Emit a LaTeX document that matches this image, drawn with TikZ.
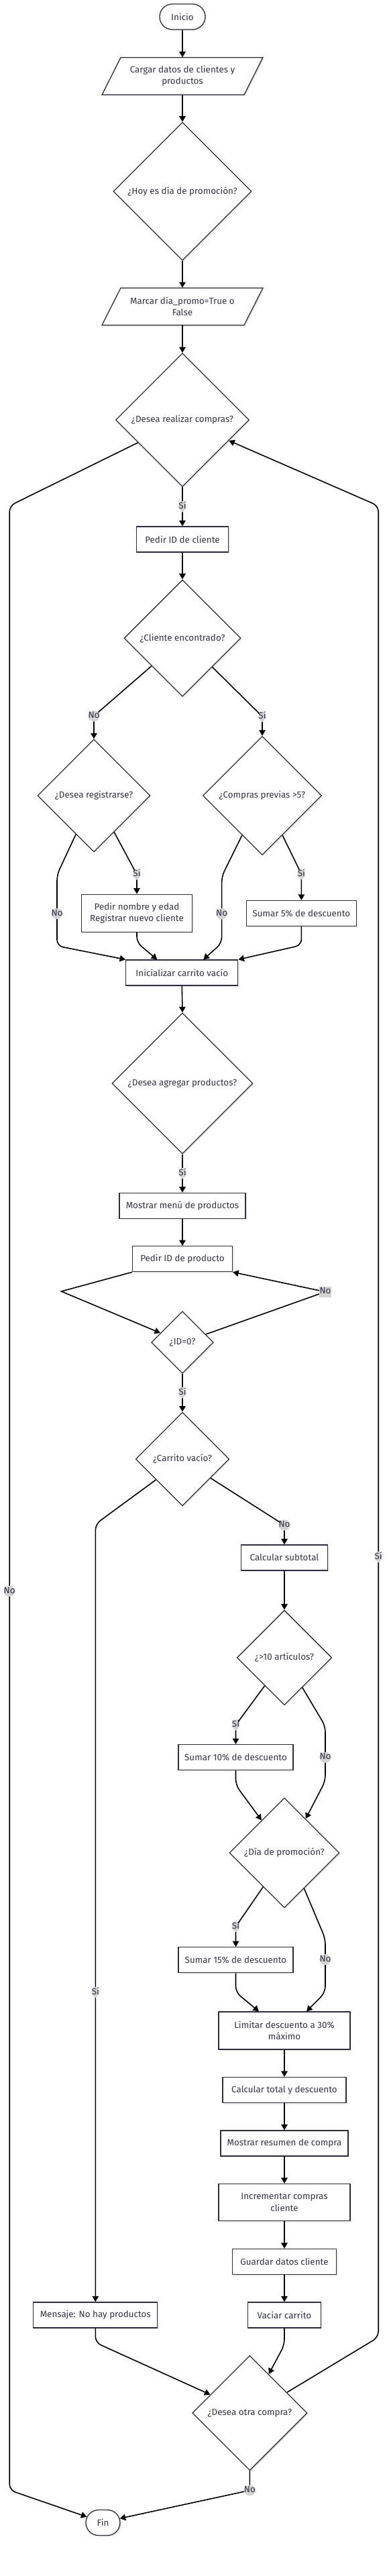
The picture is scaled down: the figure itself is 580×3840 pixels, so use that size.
\documentclass[tikz,border=0pt]{standalone}
\usepackage{fontspec}
\setmainfont{Fira Sans}
\usetikzlibrary{shapes.geometric,shapes.misc,arrows.meta,calc,shadows}
\definecolor{txtc}{RGB}{51,51,68}
\definecolor{strk}{RGB}{45,45,60}
\definecolor{lblbg}{RGB}{211,211,211}
\begin{document}
\begin{tikzpicture}[x=1pt,y=-1pt,
  shad/.style={drop shadow={shadow xshift=2pt,shadow yshift=-2pt,opacity=0.08,fill=black}},
  base/.style={draw=strk,line width=1.3pt,fill=white,text=txtc,inner sep=0pt,align=center,
    font=\fontsize{13.4}{17.3}\selectfont,shad},
  proc/.style={base,rectangle,minimum width=#1,minimum height=38},
  dec/.style={base,diamond,aspect=1,minimum width=#1,minimum height=#1},
  term/.style={base,rounded rectangle,minimum width=#1,minimum height=38},
  ptext/.style={text=txtc,inner sep=0pt,align=center,font=\fontsize{13.4}{17.3}\selectfont,
    minimum width=212,minimum height=55.6},
  pshape/.style={draw=strk,line width=1.3pt,fill=white,shad},
  conn/.style={draw=black,line width=1.6pt,-{Triangle[length=8.5pt,width=9.5pt]},rounded corners=9pt},
  lbl/.style={fill=lblbg,text=txtc,font=\fontsize{13.4}{15}\selectfont,inner xsep=0.3pt,inner ysep=2.3pt,
    text height=9pt,text depth=2.6pt}
]
\useasboundingbox (0,0) rectangle (580,3840);

% nodes
\node[term=68] (inicio) at (272,25) {Inicio};
\draw[pshape] (180,85.7) -- (392,85.7) -- (364,141.3) -- (152,141.3) -- cycle;
\node[ptext] (load) at (272,113.5) {Cargar datos de clientes y\\productos};
\node[dec=206] (d1) at (272,285.3) {¿Hoy es día de promoción?};
\draw[pshape] (180,429.3) -- (392,429.3) -- (364,484.7) -- (152,484.7) -- cycle;
\node[ptext] (load2) at (272,457) {Marcar dia\_promo=True o\\False};
\node[dec=199] (d2) at (272,626) {¿Desea realizar compras?};
\node[proc=137] (pc) at (272,804) {Pedir ID de cliente};
\node[dec=174] (d3) at (272,951.3) {¿Cliente encontrado?};
\node[dec=168] (d4) at (140,1186) {¿Desea registrarse?};
\node[dec=177] (d5) at (391,1186) {¿Compras previas >5?};
\node[proc=165,minimum height=56] (reg) at (204,1361.3) {Pedir nombre y edad\\Registrar nuevo cliente};
\node[proc=164] (s5) at (449.4,1361.5) {Sumar 5\% de descuento};
\node[proc=167] (init) at (271.3,1450) {Inicializar carrito vacío};
\node[dec=210] (d6) at (272,1615) {¿Desea agregar productos?};
\node[proc=188] (menu) at (272,1797.3) {Mostrar menú de productos};
\node[proc=149] (pid) at (272,1876.7) {Pedir ID de producto};
\node[dec=92.6] (d7) at (272,2001) {¿ID=0?};
\node[dec=139.6] (d8) at (272,2175) {¿Carrito vacío?};
\node[proc=129] (subt) at (424,2322) {Calcular subtotal};
\node[dec=141.4] (d9) at (424,2471) {¿>10 artículos?};
\node[proc=171] (s10) at (351.5,2619.7) {Sumar 10\% de descuento};
\node[dec=164] (d10) at (424,2762) {¿Día de promoción?};
\node[proc=171] (s15) at (351.5,2921.7) {Sumar 15\% de descuento};
\node[proc=196,minimum height=56] (lim) at (424,3027) {Limitar descuento a 30\%\\máximo};
\node[proc=184] (calc) at (424,3115.5) {Calcular total y descuento};
\node[proc=190] (res) at (424,3195) {Mostrar resumen de compra};
\node[proc=196,minimum height=55] (inc) at (424,3283) {Incrementar compras\\cliente};
\node[proc=155] (guard) at (424,3371.5) {Guardar datos cliente};
\node[proc=109] (vac) at (424,3451) {Vaciar carrito};
\node[proc=185] (msg) at (142.3,3451) {Mensaje: No hay productos};
\node[dec=171.4] (d11) at (372.4,3597) {¿Desea otra compra?};
\node[term=51] (fin) at (153.5,3760.5) {Fin};

% connectors
\draw[conn] (inicio.south) -- (load.north);
\draw[conn] (load.south) -- (d1.north);
\draw[conn] (d1.south) -- (load2.north);
\draw[conn] (load2.south) -- (d2.north);
\draw[conn] (d2.south) -- node[lbl]{Sí} (pc.north);
\draw[conn] (d2.207) -- (14.2,754) -- node[lbl,pos=0.547]{No} (14.2,3712) -- (fin.160);
\draw[conn] (d11.29) -- (564.2,3484) -- node[lbl,pos=0.426]{Sí} (564.2,754) -- (d2.336);
\draw[conn] (pc.south) -- (d3.north);
\draw[conn] (d3.222) -- (140,1067.4) node[lbl]{No} -- (d4.north);
\draw[conn] (d3.316) -- (391,1068) node[lbl]{Sí} -- (d5.north);
\draw[conn] (d4.299) -- (204,1303.4) node[lbl]{Sí} -- (reg.north);
\draw[conn] (d4.245) -- (85,1304) -- node[lbl,pos=0.547]{No} (85,1410) -- (init.north west);
\draw[conn] (reg.south) -- (204,1405) -- ($(init.north)+(-37,0)$);
\draw[conn] (d5.243) -- (330.6,1306.5) -- node[lbl,pos=0.56]{No} (330.6,1406) -- ($(init.north)+(32,0)$);
\draw[conn] (d5.297) -- (449.4,1303) node[lbl]{Sí} -- (s5.north);
\draw[conn] (s5.south) -- (449.4,1409) -- (init.north east);
\draw[conn] (init.south) -- (d6.north);
\draw[conn] (d6.south) -- node[lbl]{Sí} (menu.north);
\draw[conn] (menu.south) -- (pid.north);
\draw[conn,sharp corners] (pid.south west) -- (91.4,1925) -- (d7.157);
\draw[conn,sharp corners] (d7.19) -- (485,1925.7) node[lbl]{No} -- (pid.south east);
\draw[conn] (d7.south) -- node[lbl]{Sí} (d8.north);
\draw[conn] (d8.218) -- (142.3,2272) -- node[lbl,pos=0.602]{Sí} (msg.north);
\draw[conn] (d8.326) -- (424,2273.4) node[lbl]{No} -- (subt.north);
\draw[conn] (subt.south) -- (d9.north);
\draw[conn] (d9.235) -- (351.5,2571.4) node[lbl]{Sí} -- (s10.north);
\draw[conn] (d9.301) -- (485,2573) -- node[lbl,pos=0.57]{No} (485,2655) -- (d10.58);
\draw[conn] (s10.south) -- (351.5,2661) -- (d10.125);
\draw[conn] (d10.238) -- (351.5,2872) node[lbl]{Sí} -- (s15.north);
\draw[conn] (d10.299) -- (485,2890) -- node[lbl,pos=0.39]{No} (485,2970) -- ($(lim.north)+(33,0)$);
\draw[conn] (s15.south) -- (351.5,2969.8) -- ($(lim.north)+(-38,0)$);
\draw[conn] (lim.south) -- (calc.north);
\draw[conn] (calc.south) -- (res.north);
\draw[conn] (res.south) -- (inc.north);
\draw[conn] (inc.south) -- (guard.north);
\draw[conn] (guard.south) -- (vac.north);
\draw[conn] (vac.south) -- (424,3495.6) -- (d11.64);
\draw[conn] (msg.south) -- (142.3,3492) -- (d11.155);
\draw[conn] (d11.south) -- (372.4,3712.3) node[lbl]{No} -- (fin.14);
\end{tikzpicture}
\end{document}
